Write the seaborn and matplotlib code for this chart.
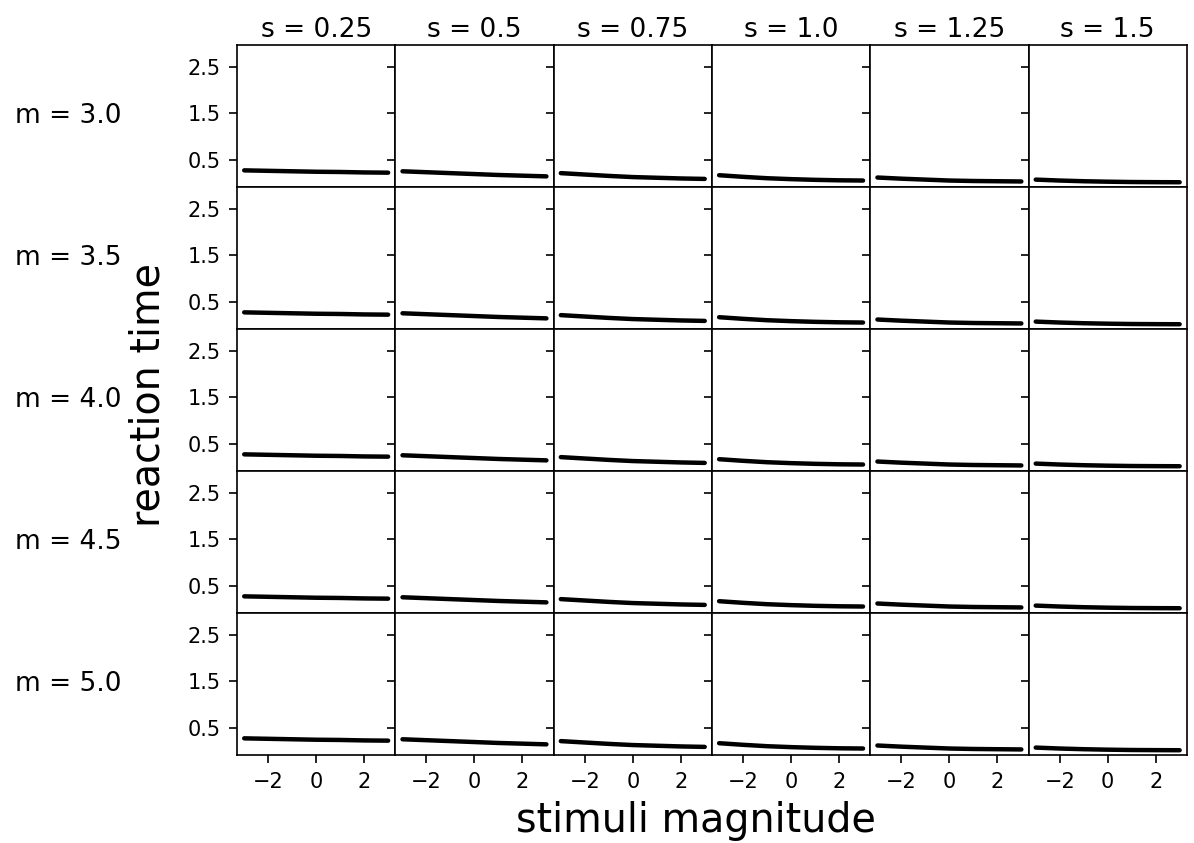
import numpy as np
import pandas as pd
import matplotlib
matplotlib.use("Agg")
import matplotlib.pyplot as plt
import seaborn as sns

# stimulus magnitudes on the x axis
stimuli = [-3, -2, -1, 0, 1, 2, 3]

# parameters of the grid
m_values = [3.0, 3.5, 4.0, 4.5, 5.0]
s_values = [0.25, 0.5, 0.75, 1.0, 1.25, 1.5]

# reaction times (same shape in every row)
rt_s025 = [0.27, 0.26, 0.25, 0.24, 0.235, 0.225, 0.22]
rt_s050 = [0.25, 0.23, 0.21, 0.19, 0.17, 0.155, 0.14]
rt_s075 = [0.21, 0.18, 0.15, 0.125, 0.11, 0.095, 0.085]
rt_s100 = [0.165, 0.13, 0.10, 0.08, 0.065, 0.055, 0.05]
rt_s125 = [0.115, 0.09, 0.07, 0.05, 0.04, 0.035, 0.03]
rt_s150 = [0.07, 0.05, 0.035, 0.025, 0.018, 0.015, 0.013]
rt_by_s = [rt_s025, rt_s050, rt_s075, rt_s100, rt_s125, rt_s150]

rows = []
for m in m_values:
    for s, rts in zip(s_values, rt_by_s):
        for x, y in zip(stimuli, rts):
            rows.append({"m": m, "s": s, "x": x, "rt": y})
df = pd.DataFrame(rows)

sns.set_style("ticks", rc={"text.color": "black", "axes.labelcolor": "black",
                           "xtick.color": "black", "ytick.color": "black",
                           "axes.edgecolor": "black"})
plt.rcParams["font.family"] = ["DejaVu Sans"]

g = sns.FacetGrid(df, row="m", col="s", sharex=True, sharey=True,
                  row_order=m_values, col_order=s_values, despine=False)
g.map_dataframe(sns.lineplot, x="x", y="rt", color="black", linewidth=3.2)
g.figure.set_size_inches(11.94, 8.43)
g.figure.subplots_adjust(left=0.1985, right=0.994, top=0.9466, bottom=0.1044,
                         wspace=0, hspace=0)

g.set(xlim=(-3.3, 3.3), ylim=(-0.09, 2.98),
      xticks=[-2, 0, 2], yticks=[0.5, 1.5, 2.5])
g.set_titles("")
g.set_axis_labels("", "")

for ax in g.axes.flat:
    ax.tick_params(labelsize=15, length=6, width=1.2, pad=6, color="black",
                   labelcolor="black")
    for sp in ax.spines.values():
        sp.set_linewidth(1.2)
        sp.set_color("black")

for j, s in enumerate(s_values):
    g.axes[0, j].set_title(f"s = {s}", fontsize=19, pad=6, color="black")

fig = g.figure
for i, m in enumerate(m_values):
    yc = 1 - (45 + 71 + 142 * i) / 843
    fig.text(15 / 1194, yc, f"m = {m}", fontsize=19, ha="left", va="center",
             color="black")

fig.text(149 / 1194, 1 - 395 / 843, "reaction time", fontsize=28.5,
         rotation=90, ha="center", va="center", color="black")
fig.text(696 / 1194, 1 - 832 / 843, "stimuli magnitude", fontsize=28.5,
         ha="center", va="baseline", color="black")

fig.savefig("out.png", dpi=100)
